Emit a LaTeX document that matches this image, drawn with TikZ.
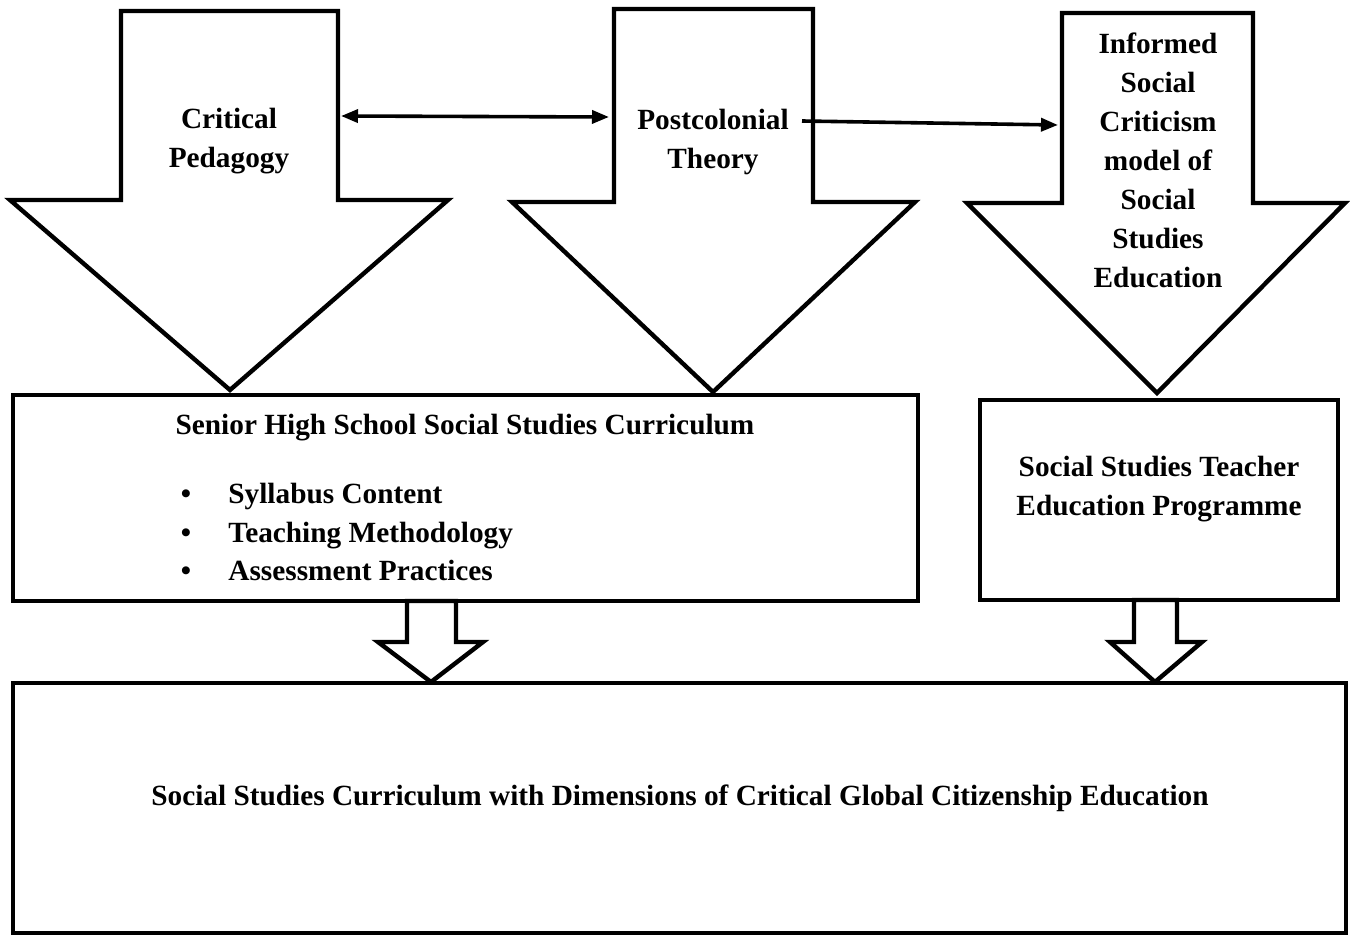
\documentclass[tikz,border=0pt]{standalone}
\usepackage{fontspec}
\setmainfont{Liberation Serif}
\usetikzlibrary{arrows.meta}
\begin{document}
\begin{tikzpicture}[x=0.5pt,y=-0.5pt,
  shp/.style={draw=black, line width=2.2pt, line join=miter, fill=white},
  lbl/.style={font={\bfseries\fontsize{14.65}{19.5}\selectfont}, align=center, inner sep=0pt},
  conn/.style={line width=1.8pt, draw=black}]
\useasboundingbox (0,0) rectangle (1350,936);
% big arrows
\draw[shp] (121,11) -- (338,11) -- (338,200) -- (448,200) -- (230,390) -- (10,200) -- (121,200) -- cycle;
\draw[shp] (614,9) -- (813,9) -- (813,202) -- (915,202) -- (713,392) -- (512,202) -- (614,202) -- cycle;
\draw[shp] (1062,13) -- (1253,13) -- (1253,203) -- (1345,203) -- (1157,393) -- (967,203) -- (1062,203) -- cycle;
% boxes
\draw[shp] (13,395) rectangle (918,601);
\draw[shp] (980,400) rectangle (1338,600);
\draw[shp] (13,683) rectangle (1346,933);
% small arrows
\draw[shp] (407,601) -- (456,601) -- (456,642) -- (483,642) -- (431,682) -- (378,642) -- (407,642) -- cycle;
\draw[shp] (1134,600) -- (1177,600) -- (1177,642) -- (1202,642) -- (1155,682) -- (1110,642) -- (1134,642) -- cycle;
% texts
\node[lbl] (cp) at (229,141) {Critical\\Pedagogy};
\node[lbl] (pt) at (713,142) {Postcolonial\\Theory};
\node[lbl] (isc) at (1158,160) {Informed\\Social\\Criticism\\model of\\Social\\Studies\\Education};
\node[lbl, anchor=base] (shs) at (465,435) {Senior High School Social Studies Curriculum};
\node[lbl, anchor=base] (b1) at (186,503) {\textbullet};
\node[lbl, anchor=base west] (i1) at (228,503) {Syllabus Content};
\node[lbl, anchor=base] (b2) at (186,542) {\textbullet};
\node[lbl, anchor=base west] (i2) at (228,542) {Teaching Methodology};
\node[lbl, anchor=base] (b3) at (186,580) {\textbullet};
\node[lbl, anchor=base west] (i3) at (228,580) {Assessment Practices};
\node[lbl] (sste) at (1159,489) {Social Studies Teacher\\Education Programme};
\node[lbl, anchor=base] (res) at (680,805) {Social Studies Curriculum with Dimensions of Critical Global Citizenship Education};
% connectors
\coordinate (cpR) at (341,116);
\coordinate (ptL) at (609,117);
\coordinate (ptR) at (802,121);
\coordinate (iscL) at (1058,125);
\draw[conn, {Triangle[length=8.5pt,width=6.5pt]}-{Triangle[length=8.5pt,width=6.5pt]}] (cpR) -- (ptL);
\draw[conn, -{Triangle[length=8.5pt,width=6.5pt]}] (ptR) -- (iscL);
\end{tikzpicture}
\end{document}
